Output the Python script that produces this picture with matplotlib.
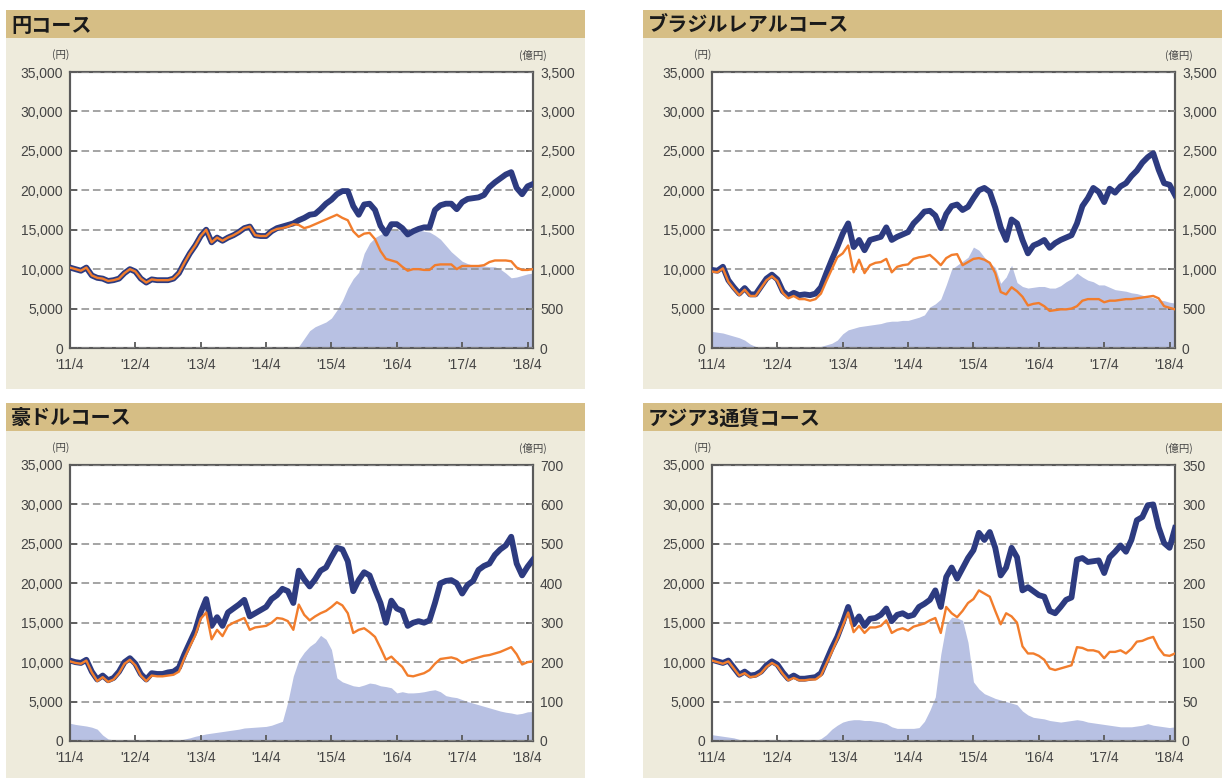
import numpy as np
import matplotlib
matplotlib.use("Agg")
import matplotlib.pyplot as plt
from matplotlib.patches import Rectangle

# ---------------- data ----------------
months = np.arange(86)  # 0 = 2011/4 ... 85 = 2018/5
tick_months = [0, 12, 24, 36, 48, 60, 72, 84]
tick_labels = ["'11/4", "'12/4", "'13/4", "'14/4", "'15/4", "'16/4", "'17/4", "'18/4"]
yen_ticks = [0, 5000, 10000, 15000, 20000, 25000, 30000, 35000]

titles = ["円コース", "ブラジルレアルコース", "豪ドルコース", "アジア3通貨コース"]
assets_max = [3500, 3500, 700, 350]

# 円コース
yen_reinvest = [10200, 10000, 9800, 10200, 9200, 8900, 8800, 8500, 8600, 8800,
                9500, 10000, 9700, 8800, 8300, 8700, 8600, 8600, 8600, 8800,
                9500, 10800, 12000, 13000, 14200, 15000, 13400, 14000, 13600, 14000,
                14300, 14700, 15200, 15400, 14300, 14200, 14200, 14800, 15200, 15400,
                15600, 15800, 16200, 16500, 16900, 17000, 17600, 18300, 18800, 19500,
                19900, 19900, 18000, 16900, 18200, 18300, 17500, 15500, 14500, 15700,
                15700, 15200, 14400, 14800, 15100, 15300, 15300, 17500, 18100, 18300,
                18300, 17600, 18500, 18900, 19000, 19100, 19400, 20400, 21000, 21500,
                22000, 22300, 20300, 19500, 20500, 20800]
yen_nav = [10200, 10000, 9800, 10200, 9200, 8900, 8800, 8500, 8600, 8800,
           9500, 10000, 9700, 8800, 8300, 8700, 8600, 8600, 8600, 8800,
           9500, 10800, 12000, 13000, 14200, 15000, 13400, 14000, 13600, 14000,
           14300, 14700, 15200, 15400, 14300, 14200, 14200, 14800, 15100, 15200,
           15400, 15700, 15600, 15200, 15400, 15700, 16000, 16300, 16600, 16900,
           16500, 16200, 14800, 14100, 14500, 14600, 13800, 12300, 11300, 11100,
           10900, 10300, 9800, 10000, 10000, 9900, 9900, 10500, 10600, 10600,
           10600, 10000, 10400, 10400, 10400, 10400, 10500, 10900, 11100, 11100,
           11100, 11000, 10200, 9900, 9900, 10000]
yen_assets = [0, 0, 0, 0, 0, 0, 0, 0, 0, 0,
              0, 0, 0, 0, 0, 0, 0, 0, 0, 0,
              0, 0, 0, 0, 0, 0, 0, 2, 3, 3,
              4, 4, 5, 5, 5, 5, 5, 6, 6, 6,
              6, 8, 20, 120, 220, 270, 300, 330, 380, 480,
              600, 760, 880, 960, 1200, 1330, 1400, 1440, 1470, 1490,
              1500, 1490, 1500, 1510, 1500, 1480, 1470, 1430, 1380, 1300,
              1220, 1160, 1100, 1070, 1050, 1050, 1040, 1030, 1030, 1000,
              950, 890, 900, 920, 940, 950]

# ブラジルレアルコース
brl_reinvest = [9900, 9800, 10300, 8600, 7700, 6900, 7600, 6800, 6800, 7800,
                8800, 9300, 8700, 7200, 6600, 7000, 6700, 6800, 6700, 6900,
                7700, 9500, 11200, 12800, 14500, 15800, 12800, 13700, 12400, 13700,
                13900, 14100, 15300, 13700, 14100, 14400, 14700, 15800, 16500, 17300,
                17400, 16800, 15200, 17000, 18000, 18200, 17500, 17900, 19000, 20000,
                20300, 19800, 17800, 15300, 13700, 16300, 15800, 13700, 12000, 13000,
                13300, 13700, 12700, 13300, 13700, 14000, 14300, 15800, 18000, 19000,
                20300, 19800, 18500, 20200, 19700, 20500, 20900, 21800, 22500, 23500,
                24200, 24700, 22600, 20900, 20700, 19400]
brl_nav = [9700, 9600, 10100, 8400, 7500, 6700, 7400, 6600, 6600, 7600,
           8600, 9100, 8500, 7000, 6300, 6600, 6200, 6200, 6000, 6200,
           6900, 8500, 10000, 11500, 12000, 13000, 9600, 11200, 9500, 10500,
           10800, 10900, 11300, 9600, 10300, 10500, 10600, 11300, 11500, 11600,
           11800, 11200, 10500, 11400, 11800, 11900, 10500, 10900, 11300, 11400,
           11200, 10800, 9500, 7100, 6800, 7700, 7200, 6500, 5400, 5600,
           5700, 5300, 4700, 4800, 4900, 4900, 5000, 5300, 6000, 6200,
           6200, 6200, 5800, 6000, 6000, 6100, 6200, 6200, 6300, 6400,
           6500, 6600, 6300, 5300, 5100, 4900]
brl_assets = [210, 200, 190, 170, 150, 130, 100, 50, 20, 5,
              0, 0, 0, 0, 0, 0, 0, 0, 0, 5,
              20, 40, 60, 100, 180, 230, 250, 270, 280, 290,
              300, 310, 330, 340, 340, 350, 350, 370, 390, 420,
              520, 560, 620, 800, 1000, 1050, 1100, 1150, 1280, 1240,
              1150, 1080, 1020, 820, 900, 1050, 830, 780, 760, 770,
              780, 780, 760, 760, 790, 840, 880, 950, 900, 860,
              840, 800, 800, 770, 740, 730, 720, 700, 690, 670,
              650, 640, 610, 600, 580, 570]

# 豪ドルコース
aud_reinvest = [10200, 10000, 9900, 10300, 8800, 7800, 8300, 7700, 8000, 8800,
                10000, 10500, 9800, 8500, 7800, 8600, 8500, 8500, 8700, 8800,
                9300, 11000, 12500, 14000, 16300, 18000, 14600, 15700, 14600, 16300,
                16800, 17300, 17900, 15800, 16200, 16600, 17000, 18000, 18500, 19300,
                19000, 17500, 21600, 20500, 19600, 20500, 21600, 22000, 23300, 24500,
                24300, 22800, 19000, 20400, 21400, 21000, 19200, 17500, 15000, 17800,
                16800, 16500, 14600, 15000, 15200, 15000, 15300, 17500, 20000, 20300,
                20400, 20000, 18700, 19800, 20300, 21700, 22200, 22500, 23600, 24300,
                24800, 25900, 22500, 21000, 22100, 23000]
aud_nav = [10100, 9900, 9800, 10200, 8700, 7600, 8100, 7500, 7800, 8600,
           9800, 10300, 9600, 8300, 7600, 8300, 8200, 8200, 8300, 8400,
           8800, 10500, 12000, 13400, 15500, 16300, 12900, 14100, 13300, 14600,
           15000, 15300, 15600, 14100, 14400, 14500, 14600, 15000, 15600, 15500,
           15200, 14100, 17300, 16000, 15300, 15800, 16200, 16500, 17000, 17600,
           17200, 16200, 13700, 14100, 14300, 13800, 13200, 11800, 10300, 10700,
           10000, 9400, 8300, 8200, 8400, 8600, 9000, 9800, 10400, 10500,
           10600, 10400, 9900, 10200, 10400, 10600, 10800, 10900, 11100, 11300,
           11600, 11900, 11000, 9700, 10000, 10100]
aud_assets = [45, 42, 40, 38, 35, 30, 15, 5, 3, 2,
              2, 2, 2, 2, 2, 2, 2, 2, 2, 2,
              2, 5, 8, 12, 15, 18, 20, 22, 24, 26,
              28, 30, 33, 34, 35, 36, 37, 40, 45, 50,
              100, 165, 205, 225, 240, 250, 268, 258, 232, 160,
              150, 145, 140, 138, 142, 147, 145, 140, 138, 135,
              122, 125, 122, 122, 123, 125, 128, 130, 125, 115,
              112, 110, 105, 100, 96, 92, 88, 84, 80, 76,
              73, 71, 68, 70, 74, 75]

# アジア3通貨コース
asia_reinvest = [10300, 10100, 9900, 10200, 9300, 8400, 8800, 8300, 8400, 8800,
                 9600, 10100, 9700, 8700, 7900, 8300, 7900, 7900, 8000, 8100,
                 8600, 10200, 11800, 13200, 15000, 17000, 14800, 15800, 14600, 15500,
                 15600, 16000, 16800, 15200, 16000, 16200, 15800, 16000, 17000, 17400,
                 17900, 19100, 17000, 20800, 22000, 20600, 21900, 23200, 24200, 26400,
                 25500, 26500, 24500, 21000, 22000, 24500, 23300, 19100, 19500, 19000,
                 18500, 18300, 16500, 16200, 17000, 17900, 18200, 23000, 23200, 22700,
                 22800, 22900, 21300, 23300, 24000, 24800, 24000, 25500, 28000, 28400,
                 29900, 30000, 27100, 25100, 24500, 27000]
asia_nav = [10200, 10000, 9800, 10100, 9200, 8300, 8600, 8100, 8200, 8600,
            9400, 9900, 9500, 8500, 7700, 8000, 7700, 7700, 7800, 7800,
            8300, 9800, 11300, 12900, 14600, 16300, 13800, 14600, 13700, 14400,
            14400, 14600, 15300, 13700, 14100, 14300, 14000, 14500, 14700, 14900,
            15300, 15600, 13700, 17000, 16200, 15700, 16500, 17500, 18000, 19100,
            18700, 18300, 16500, 14800, 16200, 15800, 15000, 12000, 11100, 11100,
            10800, 10300, 9200, 9000, 9200, 9400, 9600, 11900, 11800, 11500,
            11500, 11300, 10500, 11300, 11300, 11500, 11100, 11700, 12600, 12700,
            13000, 13200, 11800, 10900, 10800, 11100]
asia_assets = [8, 7, 6, 5, 4, 2, 1, 0.5, 0.5, 0.5,
               0.5, 0.5, 0.5, 0.5, 0.5, 0.5, 0.5, 0.5, 0.5, 0.5,
               3, 8, 15, 20, 24, 26, 27, 27, 26, 26,
               25, 24, 22, 18, 16, 16, 16, 16, 17, 25,
               39, 56, 110, 148, 157, 156, 153, 125, 75, 66,
               60, 57, 54, 52, 50, 48, 46, 38, 33, 30,
               29, 28, 26, 25, 24, 25, 26, 27, 26, 24,
               23, 22, 21, 20, 19, 18, 18, 18, 19, 20,
               22, 20, 19, 18, 17, 18]

reinvest_series = [yen_reinvest, brl_reinvest, aud_reinvest, asia_reinvest]
nav_series = [yen_nav, brl_nav, aud_nav, asia_nav]
assets_series = [yen_assets, brl_assets, aud_assets, asia_assets]

# ---------------- style ----------------
NAVY = "#2d3b80"
ORANGE = "#f27d2c"
FILL = "#b8c1e3"
BAR = "#d6be85"
PANEL = "#eeebdc"
SPINE = "#5a5a5a"
TXT = "#444444"
NUM_FONT = ["Liberation Sans Narrow", "Liberation Sans", "DejaVu Sans"]
JP_FONT = ["Noto Sans CJK JP", "DejaVu Sans"]

W, H = 1222, 778
fig = plt.figure(figsize=(W / 100, H / 100), dpi=100)
fig.patch.set_facecolor("white")


def frac(x, y, w, h):
    return [x / W, 1 - (y + h) / H, w / W, h / H]


def rect(x, y, w, h, color):
    fig.patches.append(Rectangle((x / W, 1 - (y + h) / H), w / W, h / H,
                                 transform=fig.transFigure, facecolor=color,
                                 edgecolor="none", zorder=-5))


layout = [  # bar x, bar y, axes left, axes top
    (6, 10, 70, 72),
    (643, 10, 712, 72),
    (6, 403, 70, 465),
    (643, 403, 712, 465),
]
AX_W, AX_H = 463, 276
BAR_W, BAR_H = 579, 28

for i, (bx, by, axl, axt) in enumerate(layout):
    rect(bx, by, BAR_W, BAR_H, BAR)
    rect(bx, by + BAR_H, BAR_W, 351, PANEL)
    fig.text((bx + 5) / W, 1 - (by + BAR_H / 2 + 1) / H, titles[i],
             family=JP_FONT, weight="bold", fontsize=14.5, color="#1a1a1a",
             ha="left", va="center")

    ax = fig.add_axes(frac(axl, axt, AX_W, AX_H))
    ax2 = ax.twinx()
    ax2.set_zorder(1)
    ax.set_zorder(2)
    ax.patch.set_visible(False)
    ax2.patch.set_visible(True)
    ax2.patch.set_facecolor("white")

    ax2.fill_between(months, 0, assets_series[i], color=FILL, lw=0, zorder=1)
    ax.plot(months, reinvest_series[i], color=NAVY, lw=4.2,
            solid_joinstyle="round", zorder=3)
    ax.plot(months, nav_series[i], color=ORANGE, lw=1.7,
            solid_joinstyle="round", zorder=4)

    ax.set_xlim(0, 85)
    ax.set_ylim(0, 35000)
    ax2.set_ylim(0, assets_max[i])
    ax.set_yticks(yen_ticks)
    ax.set_yticklabels([f"{v:,}" for v in yen_ticks])
    rticks = [assets_max[i] * k / 7 for k in range(8)]
    ax2.set_yticks(rticks)
    ax2.set_yticklabels([f"{int(round(v)):,}" for v in rticks])
    ax.set_xticks(tick_months)
    ax.set_xticklabels(tick_labels)

    ax.grid(axis="y", color="#8c8c8c", linestyle=(0, (5, 2.5)), lw=1.1, zorder=2)
    ax.set_axisbelow(False)

    for a in (ax, ax2):
        for s in a.spines.values():
            s.set_color(SPINE)
            s.set_linewidth(1.5)
    ax.tick_params(axis="y", direction="in", length=5, width=1.3, color=SPINE,
                   labelsize=10, labelcolor=TXT, pad=5)
    ax.tick_params(axis="x", direction="in", length=4, width=1.3, color=SPINE,
                   labelsize=10, labelcolor=TXT, pad=7)
    ax2.tick_params(axis="y", direction="in", length=5, width=1.3, color=SPINE,
                    labelsize=10, labelcolor=TXT, pad=5)
    for lab in ax.get_yticklabels() + ax.get_xticklabels() + ax2.get_yticklabels():
        lab.set_family(NUM_FONT)

    fig.text((axl - 9) / W, 1 - (axt - 17) / H, "(円)", family=JP_FONT,
             fontsize=7.5, color=TXT, ha="center", va="center")
    fig.text((axl + AX_W + (0 if i in (0, 2) else 4)) / W, 1 - (axt - 17) / H,
             "(億円)", family=JP_FONT, fontsize=7.5, color=TXT,
             ha="center", va="center")

fig.savefig("out.png", dpi=100, facecolor="white")
